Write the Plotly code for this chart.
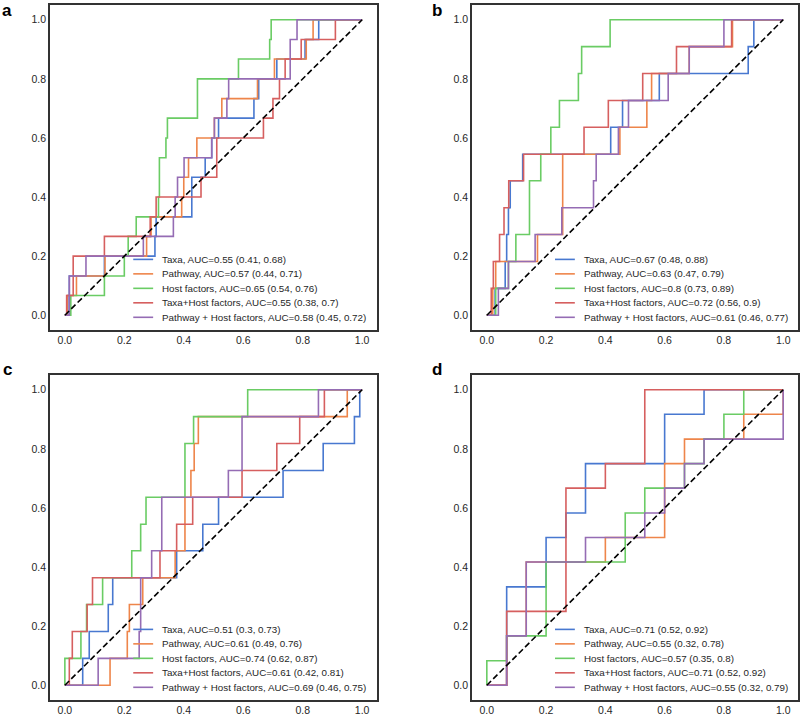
import plotly.graph_objects as go

# ROC curves: points where each step rises (drawn with line_shape='hv')
model_names = ["Taxa", "Pathway", "Host factors", "Taxa+Host factors", "Pathway + Host factors"]
colors = ["#4878d0", "#ee854a", "#6acc64", "#d65f5f", "#956cb4"]
diag = [0, 1]

# panel a
a_taxa_fpr = [0, 0.01, 0.015, 0.133, 0.303, 0.307, 0.427, 0.472, 0.494, 0.517, 0.636, 0.652, 0.713, 0.808, 0.854, 1]
a_taxa_tpr = [0, 0.067, 0.133, 0.2, 0.267, 0.333, 0.467, 0.533, 0.6, 0.667, 0.733, 0.8, 0.867, 0.933, 1, 1]
a_path_fpr = [0, 0.008, 0.039, 0.135, 0.275, 0.29, 0.393, 0.4, 0.416, 0.444, 0.503, 0.528, 0.648, 0.705, 0.812, 0.835, 1]
a_path_tpr = [0, 0.067, 0.133, 0.2, 0.267, 0.333, 0.4, 0.467, 0.533, 0.6, 0.667, 0.733, 0.8, 0.867, 0.933, 1, 1]
a_host_fpr = [0, 0.02, 0.133, 0.2, 0.213, 0.24, 0.315, 0.318, 0.34, 0.345, 0.446, 0.584, 0.689, 0.694, 1]
a_host_tpr = [0, 0.067, 0.133, 0.2, 0.267, 0.333, 0.4, 0.533, 0.6, 0.667, 0.8, 0.867, 0.933, 1, 1]
a_taxahost_fpr = [0, 0.006, 0.028, 0.133, 0.287, 0.307, 0.458, 0.511, 0.668, 0.7, 0.722, 0.741, 0.795, 0.91, 1]
a_taxahost_tpr = [0, 0.067, 0.2, 0.267, 0.333, 0.4, 0.467, 0.6, 0.667, 0.733, 0.8, 0.867, 0.933, 1, 1]
a_pathhost_fpr = [0, 0.015, 0.071, 0.264, 0.365, 0.371, 0.379, 0.401, 0.494, 0.503, 0.545, 0.551, 0.758, 0.781, 1]
a_pathhost_tpr = [0, 0.133, 0.2, 0.267, 0.333, 0.4, 0.467, 0.533, 0.6, 0.667, 0.733, 0.8, 0.933, 1, 1]
a_labels = ["Taxa, AUC=0.55 (0.41, 0.68)", "Pathway, AUC=0.57 (0.44, 0.71)",
            "Host factors, AUC=0.65 (0.54, 0.76)", "Taxa+Host factors, AUC=0.55 (0.38, 0.7)",
            "Pathway + Host factors, AUC=0.58 (0.45, 0.72)"]

# panel b
b_taxa_fpr = [0, 0.028, 0.062, 0.067, 0.073, 0.079, 0.121, 0.418, 0.458, 0.582, 0.882, 0.901, 1]
b_taxa_tpr = [0, 0.091, 0.182, 0.273, 0.364, 0.455, 0.545, 0.636, 0.727, 0.818, 0.909, 1, 1]
b_path_fpr = [0, 0.02, 0.03, 0.171, 0.256, 0.449, 0.54, 0.556, 0.683, 0.829, 1]
b_path_tpr = [0, 0.091, 0.182, 0.273, 0.545, 0.636, 0.727, 0.818, 0.909, 1, 1]
b_host_fpr = [0, 0.03, 0.073, 0.098, 0.144, 0.182, 0.216, 0.245, 0.309, 0.32, 0.416, 1]
b_host_tpr = [0, 0.091, 0.182, 0.273, 0.455, 0.545, 0.636, 0.727, 0.818, 0.909, 1, 1]
b_taxahost_fpr = [0, 0.015, 0.022, 0.043, 0.058, 0.074, 0.124, 0.328, 0.41, 0.526, 0.64, 0.826, 1]
b_taxahost_tpr = [0, 0.091, 0.182, 0.273, 0.364, 0.455, 0.545, 0.636, 0.727, 0.818, 0.909, 1, 1]
b_pathhost_fpr = [0, 0.039, 0.073, 0.163, 0.253, 0.36, 0.369, 0.444, 0.478, 0.612, 0.683, 0.8, 1]
b_pathhost_tpr = [0, 0.091, 0.182, 0.273, 0.364, 0.455, 0.545, 0.636, 0.727, 0.818, 0.909, 1, 1]
b_labels = ["Taxa, AUC=0.67 (0.48, 0.88)", "Pathway, AUC=0.63 (0.47, 0.79)",
            "Host factors, AUC=0.8 (0.73, 0.89)", "Taxa+Host factors, AUC=0.72 (0.56, 0.9)",
            "Pathway + Host factors, AUC=0.61 (0.46, 0.77)"]

# panel c
c_taxa_fpr = [0, 0.06, 0.082, 0.146, 0.161, 0.376, 0.464, 0.517, 0.734, 0.869, 0.974, 0.992, 1]
c_taxa_tpr = [0, 0.091, 0.182, 0.273, 0.364, 0.455, 0.545, 0.636, 0.727, 0.818, 0.909, 1, 1]
c_path_fpr = [0, 0.152, 0.21, 0.217, 0.262, 0.371, 0.404, 0.424, 0.435, 0.449, 0.95, 1]
c_path_tpr = [0, 0.091, 0.182, 0.273, 0.364, 0.455, 0.636, 0.727, 0.818, 0.909, 1, 1]
c_host_fpr = [0, 0, 0.054, 0.073, 0.127, 0.225, 0.255, 0.273, 0.404, 0.433, 0.615, 1]
c_host_tpr = [0, 0.091, 0.182, 0.273, 0.364, 0.455, 0.545, 0.636, 0.818, 0.909, 1, 1]
c_taxahost_fpr = [0, 0.015, 0.025, 0.075, 0.093, 0.32, 0.376, 0.43, 0.596, 0.713, 0.79, 0.873, 1]
c_taxahost_tpr = [0, 0.091, 0.182, 0.273, 0.364, 0.455, 0.545, 0.636, 0.727, 0.818, 0.909, 1, 1]
c_pathhost_fpr = [0, 0.112, 0.25, 0.255, 0.292, 0.326, 0.55, 0.596, 0.853, 1]
c_pathhost_tpr = [0, 0.091, 0.182, 0.364, 0.455, 0.636, 0.727, 0.909, 1, 1]
c_labels = ["Taxa, AUC=0.51 (0.3, 0.73)", "Pathway, AUC=0.61 (0.49, 0.76)",
            "Host factors, AUC=0.74 (0.62, 0.87)", "Taxa+Host factors, AUC=0.61 (0.42, 0.81)",
            "Pathway + Host factors, AUC=0.69 (0.46, 0.75)"]

# panel d
d_taxa_fpr = [0, 0.067, 0.2, 0.267, 0.333, 0.6, 0.733, 1]
d_taxa_tpr = [0, 0.333, 0.5, 0.583, 0.75, 0.917, 1, 1]
d_path_fpr = [0, 0.067, 0.133, 0.4, 0.6, 0.667, 0.867, 1]
d_path_tpr = [0, 0.167, 0.417, 0.5, 0.75, 0.833, 0.917, 1]
d_host_fpr = [0, 0, 0.067, 0.2, 0.467, 0.533, 0.667, 0.733, 0.8, 0.867, 1]
d_host_tpr = [0, 0.083, 0.167, 0.417, 0.583, 0.667, 0.75, 0.833, 0.917, 1, 1]
d_taxahost_fpr = [0, 0.067, 0.267, 0.4, 0.533, 1]
d_taxahost_tpr = [0, 0.25, 0.667, 0.75, 1, 1]
d_pathhost_fpr = [0, 0.067, 0.133, 0.333, 0.533, 0.6, 0.667, 0.733, 1]
d_pathhost_tpr = [0, 0.167, 0.417, 0.5, 0.583, 0.667, 0.75, 0.833, 1]
d_labels = ["Taxa, AUC=0.71 (0.52, 0.92)", "Pathway, AUC=0.55 (0.32, 0.78)",
            "Host factors, AUC=0.57 (0.35, 0.8)", "Taxa+Host factors, AUC=0.71 (0.52, 0.92)",
            "Pathway + Host factors, AUC=0.55 (0.32, 0.79)"]

tick_vals = [0.0, 0.2, 0.4, 0.6, 0.8, 1.0]

panels = [
    ("a", "x", "y", [(a_taxa_fpr, a_taxa_tpr), (a_path_fpr, a_path_tpr), (a_host_fpr, a_host_tpr),
                     (a_taxahost_fpr, a_taxahost_tpr), (a_pathhost_fpr, a_pathhost_tpr)], a_labels),
    ("b", "x2", "y2", [(b_taxa_fpr, b_taxa_tpr), (b_path_fpr, b_path_tpr), (b_host_fpr, b_host_tpr),
                       (b_taxahost_fpr, b_taxahost_tpr), (b_pathhost_fpr, b_pathhost_tpr)], b_labels),
    ("c", "x3", "y3", [(c_taxa_fpr, c_taxa_tpr), (c_path_fpr, c_path_tpr), (c_host_fpr, c_host_tpr),
                       (c_taxahost_fpr, c_taxahost_tpr), (c_pathhost_fpr, c_pathhost_tpr)], c_labels),
    ("d", "x4", "y4", [(d_taxa_fpr, d_taxa_tpr), (d_path_fpr, d_path_tpr), (d_host_fpr, d_host_tpr),
                       (d_taxahost_fpr, d_taxahost_tpr), (d_pathhost_fpr, d_pathhost_tpr)], d_labels),
]

W, H = 800, 717
# pixel boxes of each axes frame (left, right, top, bottom)
boxes = {"a": (50, 377, 5, 330), "b": (472, 798, 5, 330),
         "c": (50, 377, 375, 700), "d": (472, 798, 375, 700)}
letter_pos = {"a": (7, 11), "b": (437, 11), "c": (7, 369), "d": (437, 369)}

FONT = "Arial, Liberation Sans, sans-serif"
fig = go.Figure()
shapes = []
annotations = []
layout = {}

for letter, xa, ya, curves, labels in panels:
    for (fpr, tpr), name, col in zip(curves, model_names, colors):
        fig.add_trace(go.Scatter(x=fpr, y=tpr, mode="lines", line=dict(color=col, width=1.6, shape="hv"),
                                 name=name, showlegend=False, xaxis=xa, yaxis=ya, hoverinfo="skip"))
    fig.add_trace(go.Scatter(x=diag, y=diag, mode="lines", line=dict(color="black", width=1.6, dash="6px,3px"),
                             showlegend=False, xaxis=xa, yaxis=ya, hoverinfo="skip"))

    l, r, t, b = boxes[letter]
    xkey = "xaxis" + xa[1:]
    ykey = "yaxis" + ya[1:]
    layout[xkey] = dict(domain=[l / W, r / W], range=[-0.05, 1.05], anchor=ya,
                        tickvals=tick_vals, tickformat=".1f", showgrid=False, zeroline=False,
                        showline=True, mirror=True, linecolor="#333333", linewidth=1.5,
                        ticks="", tickfont=dict(family=FONT, size=10.5, color="#262626"))
    layout[ykey] = dict(domain=[(H - b) / H, (H - t) / H], range=[-0.05, 1.05], anchor=xa,
                        tickvals=tick_vals, tickformat=".1f", showgrid=False, zeroline=False,
                        showline=True, mirror=True, linecolor="#333333", linewidth=1.5,
                        ticks="", tickfont=dict(family=FONT, size=10.5, color="#262626"))

    # legend drawn inside the axes, lower right
    for i, (lab, col) in enumerate(zip(labels, colors)):
        yy = 0.189 - i * 0.049
        shapes.append(dict(type="line", xref=xa, yref=ya, x0=0.23, x1=0.297, y0=yy, y1=yy,
                           line=dict(color=col, width=1.6)))
        annotations.append(dict(xref=xa, yref=ya, x=0.32, y=yy, text=lab, showarrow=False,
                                xanchor="left", yanchor="middle",
                                font=dict(family=FONT, size=9.8, color="#262626")))

    px, py = letter_pos[letter]
    annotations.append(dict(xref="paper", yref="paper", x=px / W, y=(H - py) / H, text="<b>" + letter + "</b>",
                            showarrow=False, xanchor="center", yanchor="middle",
                            font=dict(family=FONT, size=17, color="black")))

fig.update_layout(
    width=W, height=H,
    margin=dict(l=0, r=0, t=0, b=0),
    plot_bgcolor="white", paper_bgcolor="white",
    shapes=shapes, annotations=annotations,
    **layout
)

# the page body has a default 8px margin; drop it so the figure sits at the window corner
fig.write_html("out.html", config={"displayModeBar": False},
               post_script="document.body.style.margin='0';")
